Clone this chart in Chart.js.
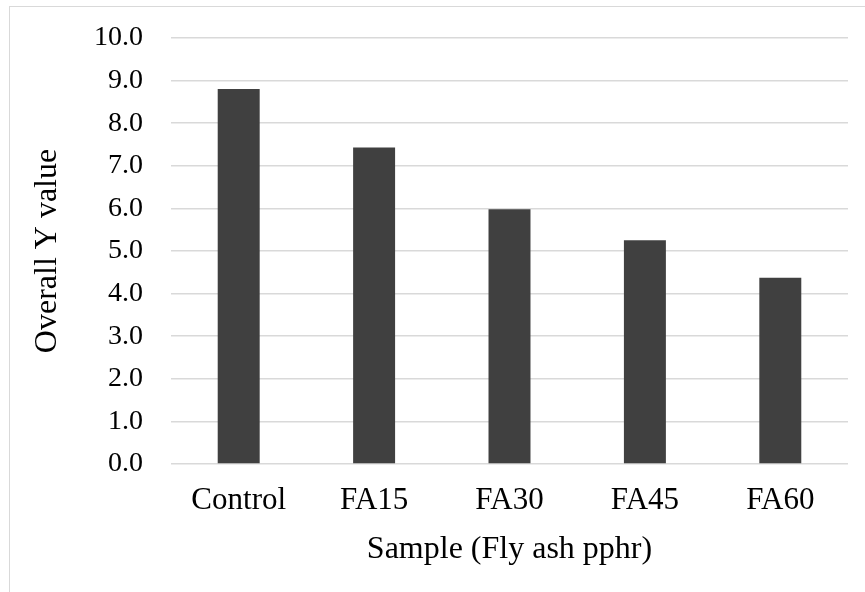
<!DOCTYPE html>
<html>
<head>
<meta charset="utf-8">
<script src="https://cdn.jsdelivr.net/npm/chart.js@4"></script>
<style>
  html, body { margin: 0; padding: 0; background: #fff; }
  #wrap { position: relative; width: 865px; height: 592px; }
  #frame { position: absolute; left: 9px; top: 6px; width: 870px; height: 600px;
           border-left: 1.5px solid #d9d9d9; border-top: 1.5px solid #d9d9d9; }
</style>
</head>
<body>
<div id="wrap">
  <div id="frame"></div>
  <canvas id="chart"></canvas>
</div>
<script>
// Overall Y value by fly ash loading
const samples = ["Control", "FA15", "FA30", "FA45", "FA60"];
const overallY = [8.8, 7.43, 5.98, 5.25, 4.37];
const yTicks = [0, 1, 2, 3, 4, 5, 6, 7, 8, 9, 10];

const serif = "'Liberation Serif', 'Times New Roman', serif";

const ctx = document.getElementById("chart").getContext("2d");
new Chart(ctx, {
  type: 'bar',
  data: {
    labels: samples,
    datasets: [{ data: overallY, backgroundColor: '#404040', borderWidth: 0,
                 categoryPercentage: 1, barPercentage: 0.31 }]
  },
  options: {
    responsive: true,
    maintainAspectRatio: false,
    animation: false,
    layout: { autoPadding: false, padding: { top: 38, right: 17, bottom: 0, left: 0 } },
    plugins: { legend: { display: false }, tooltip: { enabled: false } },
    scales: {
      x: {
        grid: { display: false },
        border: { display: false },
        ticks: { color: '#000', font: { family: serif, size: 31 }, padding: 10, maxRotation: 0 },
        title: { display: true, text: 'Sample (Fly ash pphr)', color: '#000',
                 font: { family: serif, size: 32 }, padding: { top: 0, bottom: 23 } },
        afterFit: s => { s.height = 128; }
      },
      y: {
        min: 0, max: 10,
        afterBuildTicks: s => { s.ticks = yTicks.map(v => ({ value: v })); },
        grid: { color: '#d9d9d9', lineWidth: 1.5, drawTicks: false },
        border: { display: false },
        ticks: { color: '#000', font: { family: serif, size: 28 }, padding: 28,
                 callback: v => Number(v).toFixed(1) },
        title: { display: true, text: 'Overall Y value', color: '#000',
                 font: { family: serif, size: 32 }, padding: { top: 28, bottom: 0 } },
        afterFit: s => { s.width = 171; s.paddingTop = 0; s.paddingBottom = 0; }
      }
    }
  }
});
</script>
</body>
</html>
